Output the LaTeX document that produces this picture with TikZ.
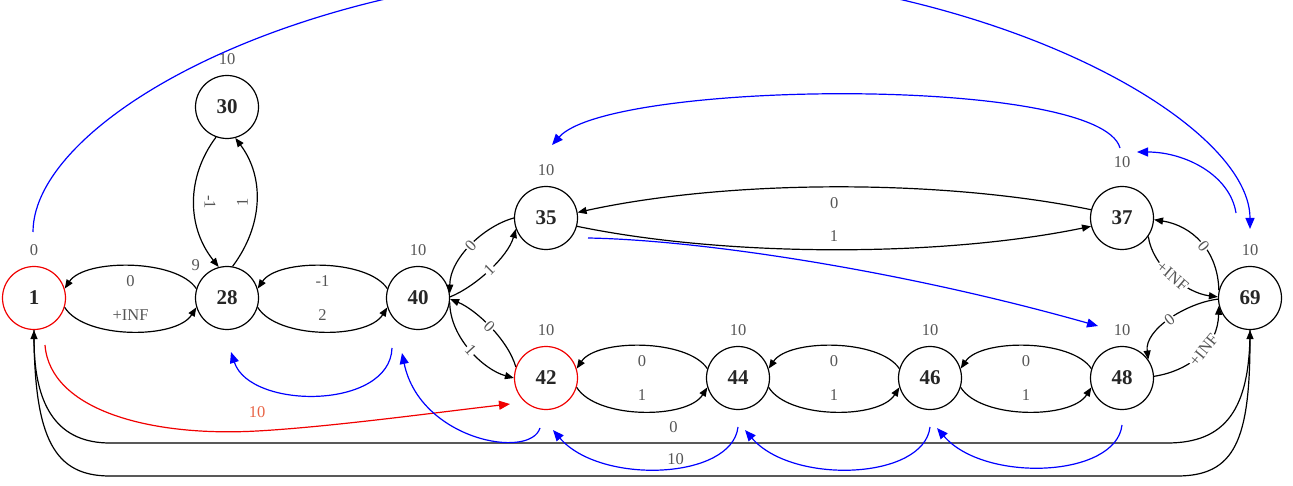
\documentclass[tikz,border=0pt]{standalone}
\usepackage{fontspec}
\setmainfont{Liberation Serif}
\usetikzlibrary{arrows.meta,positioning}
\definecolor{lab}{RGB}{85,85,85}
\definecolor{redlab}{RGB}{232,100,70}
\definecolor{bl}{RGB}{0,0,255}
\definecolor{rd}{RGB}{240,0,0}
\tikzset{
 vert/.style={circle,draw=black,line width=1.2pt,minimum size=63pt,inner sep=0pt,font=\fontsize{21}{21}\selectfont\bfseries,text=black!85},
 redvert/.style={vert,draw=rd},
 vlab/.style={font=\fontsize{16.5}{16.5}\selectfont,text=lab,inner sep=0pt},
 elab/.style={font=\fontsize{16.5}{16.5}\selectfont,text=lab,inner sep=0pt},
 onlab/.style={elab,fill=white,inner sep=1pt,sloped},
 edge/.style={draw=black,line width=1.2pt,-{Triangle[length=9pt,width=7pt]}},
 bedge/.style={draw=bl,line width=1.2pt,-{Triangle[length=11pt,width=9pt]}},
 redge/.style={draw=rd,line width=1.2pt,-{Triangle[length=11pt,width=9pt]}},
}
\begin{document}
\begin{tikzpicture}[x=1pt,y=1pt]
\useasboundingbox (0,0) rectangle (1293,-486);
% nodes
\node[redvert,label={[vlab,label distance=10pt]90:0}] (n1) at (34,-298) {1};
\node[vert,label={[vlab,label distance=6pt]135:9}] (n28) at (227,-298) {28};
\node[vert,label={[vlab,label distance=10pt]90:10}] (n30) at (227,-107) {30};
\node[vert,label={[vlab,label distance=10pt]90:10}] (n40) at (418,-298) {40};
\node[vert,label={[vlab,label distance=10pt]90:10}] (n35) at (546,-218) {35};
\node[vert,label={[vlab,label distance=18pt]90:10}] (n37) at (1122,-218) {37};
\node[redvert,label={[vlab,label distance=10pt]90:10}] (n42) at (546,-378) {42};
\node[vert,label={[vlab,label distance=10pt]90:10}] (n44) at (738,-378) {44};
\node[vert,label={[vlab,label distance=10pt]90:10}] (n46) at (930,-378) {46};
\node[vert,label={[vlab,label distance=10pt]90:10}] (n48) at (1122,-378) {48};
\node[vert,label={[vlab,label distance=10pt]90:10}] (n69) at (1250,-298) {69};
% horizontal lenses
\draw[edge] (n28.163) .. controls +(-20,30) and +(20,30) .. (n1.17) node[elab,midway,below=9pt]{0};
\draw[edge] (n1.-17) .. controls +(20,-32) and +(-20,-32) .. (n28.-163) node[elab,midway,above=10pt]{+INF};
\draw[edge] (n40.163) .. controls +(-20,30) and +(20,30) .. (n28.17) node[elab,midway,below=9pt]{-1};
\draw[edge] (n28.-17) .. controls +(20,-32) and +(-20,-32) .. (n40.-163) node[elab,midway,above=10pt]{2};
\draw[edge] (n44.163) .. controls +(-20,30) and +(20,30) .. (n42.17) node[elab,midway,below=9pt]{0};
\draw[edge] (n42.-17) .. controls +(20,-32) and +(-20,-32) .. (n44.-163) node[elab,midway,above=10pt]{1};
\draw[edge] (n46.163) .. controls +(-20,30) and +(20,30) .. (n44.17) node[elab,midway,below=9pt]{0};
\draw[edge] (n44.-17) .. controls +(20,-32) and +(-20,-32) .. (n46.-163) node[elab,midway,above=10pt]{1};
\draw[edge] (n48.163) .. controls +(-20,30) and +(20,30) .. (n46.17) node[elab,midway,below=9pt]{0};
\draw[edge] (n46.-17) .. controls +(20,-32) and +(-20,-32) .. (n48.-163) node[elab,midway,above=10pt]{1};
% 35-37
\draw[edge] (n37.165) .. controls +(-150,31) and +(150,33) .. (n35.10) node[elab,midway,below=10pt]{0};
\draw[edge] (n35.-15) .. controls +(150,-31) and +(-150,-31) .. (n37.-165) node[elab,midway,above=7pt]{1};
% 28-30
\draw[edge] (n30.250) .. controls +(-30,-40) and +(-32,40) .. (n28.105) node[elab,midway,xshift=16pt,rotate=-90]{-1};
\draw[edge] (n28.80) .. controls +(30,40) and +(30,-40) .. (n30.-75) node[elab,midway,xshift=-14pt,rotate=90]{1};
% 40-35, 40-42
\draw[edge] (n35.180) .. controls +(-30,-8) and +(0,35) .. (n40.8) node[onlab,midway]{0};
\draw[edge] (n40.2) .. controls +(25,10) and +(-8,-28) .. (n35.200) node[onlab,midway]{1};
\draw[edge] (n40.-8) .. controls +(0,-35) and +(-30,8) .. (n42.180) node[onlab,midway]{1};
\draw[edge] (n42.160) .. controls +(-8,28) and +(25,-10) .. (n40.-2) node[onlab,midway]{0};
% 37-69, 48-69
\draw[edge] (n69.166) .. controls +(-1,40) and +(38,-6) .. (n37.-3) node[onlab,pos=0.45]{0};
\draw[edge] (n37.-35) .. controls +(4,-30) and +(-32,4) .. (n69.178) node[onlab,midway]{+INF};
\draw[edge] (n69.182) .. controls +(-32,-4) and +(-4,30) .. (n48.35) node[onlab,midway]{0};
\draw[edge] (n48.3) .. controls +(38,6) and +(-1,-40) .. (n69.-166) node[onlab,pos=0.55]{+INF};
% bottom long edges
\draw[edge] (n69.south) .. controls (1250,-410) and (1225,-443) .. (1167,-443) -- (110,-443) node[elab,pos=0.467,above=10pt]{0} .. controls (60,-443) and (34,-410) .. (n1.south);
\draw[edge] (n1.south) .. controls (34,-440) and (55,-476) .. (110,-476) -- (1177,-476) node[elab,pos=0.53,above=11pt]{10} .. controls (1235,-476) and (1250,-440) .. (n69.south);
% red edge
\coordinate (r1s) at (45,-345);
\coordinate (r1e) at (510,-404);
\draw[redge] (r1s) .. controls (50,-410) and (150,-437) .. (257,-431) node[elab,text=redlab,above=13pt]{10} .. controls (330,-427) and (440,-412) .. (r1e);
% blue edges
\coordinate (b1s) at (33,-232); \coordinate (b1e) at (1250,-229);
\draw[bedge] (b1s) .. controls (33,-120) and (300,30) .. (641,30) .. controls (983,30) and (1250,-120) .. (b1e);
\coordinate (b2s) at (1120,-148); \coordinate (b2e) at (552,-145);
\draw[bedge] (b2s) .. controls (1100,-75) and (610,-80) .. (b2e);
\coordinate (b3s) at (1236,-213); \coordinate (b3e) at (1137,-152);
\draw[bedge] (b3s) .. controls (1230,-175) and (1185,-152) .. (b3e);
\coordinate (b4s) at (588,-238); \coordinate (b4e) at (1098,-326);
\draw[bedge] (b4s) .. controls (700,-240) and (900,-270) .. (b4e);
\coordinate (b5s) at (392,-348); \coordinate (b5e) at (231,-352);
\draw[bedge] (b5s) .. controls (390,-410) and (250,-410) .. (b5e);
\coordinate (b6s) at (540,-428); \coordinate (b6e) at (402,-353);
\draw[bedge] (b6s) .. controls (530,-460) and (420,-440) .. (b6e);
\coordinate (b7s) at (738,-427); \coordinate (b7e) at (553,-430);
\draw[bedge] (b7s) .. controls (732,-480) and (600,-485) .. (b7e);
\coordinate (b8s) at (930,-427); \coordinate (b8e) at (745,-430);
\draw[bedge] (b8s) .. controls (924,-480) and (792,-485) .. (b8e);
\coordinate (b9s) at (1122,-425); \coordinate (b9e) at (937,-428);
\draw[bedge] (b9s) .. controls (1116,-478) and (984,-483) .. (b9e);
\end{tikzpicture}
\end{document}
